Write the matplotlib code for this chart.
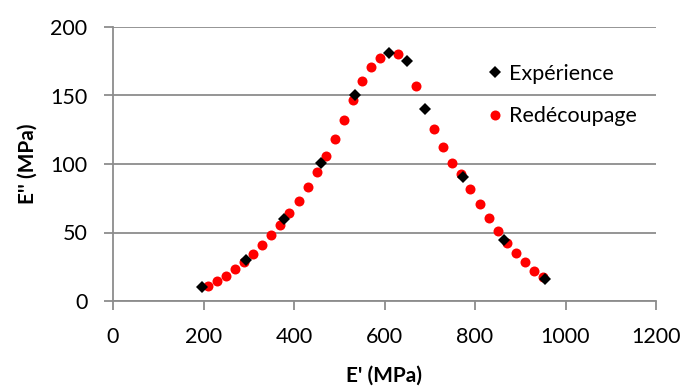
import matplotlib
matplotlib.use("Agg")
import matplotlib.pyplot as plt

# Data
exp_x = [197, 295, 379, 459, 535, 610, 650, 690, 773, 865, 955]
exp_y = [10, 30, 60, 100.5, 150.5, 181, 175.5, 140, 90.5, 44.5, 16]

red_x = [210, 230, 250, 270, 290, 310, 330, 350, 370, 390, 410, 430, 450, 470,
         490, 510, 530, 550, 570, 590, 630, 670, 710, 730, 750,
         770, 790, 810, 830, 850, 870, 890, 910, 930, 950]
red_y = [11, 14.6, 18.5, 23.6, 28.2, 34.3, 40.9, 47.9, 55.7, 64.5, 73.2, 83.4,
         94.2, 106, 118.5, 132, 146.5, 160.5, 170.5, 177.5, 180, 157,
         125.5, 112.6, 101, 92.7, 81.5, 70.8, 60.4, 51.3, 42.5, 35.3, 28.2,
         22.1, 17.5]

x_ticks = [0, 200, 400, 600, 800, 1000, 1200]
y_ticks = [0, 50, 100, 150, 200]

plt.rcParams['font.family'] = ['Lato', 'DejaVu Sans']
grey = '#8c8c8c'

fig = plt.figure(figsize=(6.83, 3.87), dpi=100)
ax = fig.add_axes([113/683, 1-301/387, (656-113)/683, (301-27)/387])

ax.plot(red_x, red_y, linestyle='none', marker='o', markersize=7.2,
        color='#ff0000', markeredgewidth=0, label='Redécoupage', zorder=3)
ax.plot(exp_x, exp_y, linestyle='none', marker='D', markersize=6.2,
        color='black', markeredgewidth=0, label='Expérience', zorder=4)

ax.set_xlim(0, 1200)
ax.set_ylim(0, 200)
ax.set_xticks(x_ticks)
ax.set_yticks(y_ticks)
ax.yaxis.grid(True, color=grey, linewidth=1.3)
ax.set_axisbelow(True)
for s in ['top', 'right']:
    ax.spines[s].set_visible(False)
for s in ['left', 'bottom']:
    ax.spines[s].set_color(grey)
    ax.spines[s].set_linewidth(1.3)
ax.tick_params(axis='both', direction='out', length=6.5, width=1.3, color=grey,
               labelsize=15.5, labelcolor='black')
ax.tick_params(axis='x', pad=12)
ax.tick_params(axis='y', pad=12)

ax.set_xlabel("E' (MPa)", fontsize=15, fontweight='bold', labelpad=14)
ax.set_ylabel("E'' (MPa)", fontsize=15, fontweight='bold', labelpad=9)

handles, labels = ax.get_legend_handles_labels()
leg = ax.legend(handles[::-1], labels[::-1], loc='upper left',
                bbox_to_anchor=(0.668, 0.897), frameon=False, fontsize=15.5,
                handletextpad=0.15, labelspacing=1.05, handlelength=1.0,
                borderaxespad=0)

fig.savefig('out.png', dpi=100)
